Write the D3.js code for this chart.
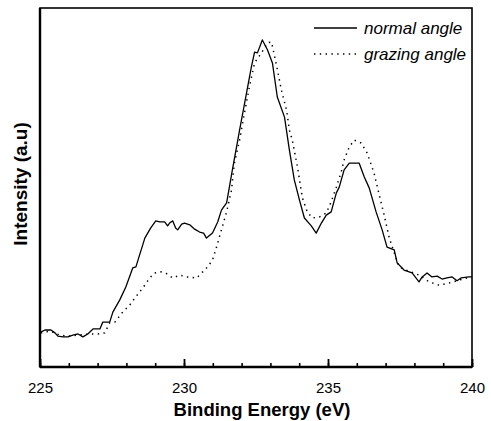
<!DOCTYPE html>
<html>
<head>
<meta charset="utf-8">
<script src="https://cdn.jsdelivr.net/npm/d3@7"></script>
<style>
  body { margin: 0; background: #fff; }
  text { font-family: "Liberation Sans", Arial, sans-serif; fill: #000; }
</style>
</head>
<body>
<svg id="chart" width="491" height="421"></svg>
<script>
// binding energy (eV) / intensity (a.u.)
var normalEnergy = [225.03,225.17,225.38,225.52,225.62,225.80,225.97,226.14,226.32,226.49,
    226.66,226.84,227.08,227.18,227.42,227.53,227.77,227.98,228.22,228.33,
    228.64,228.84,229.02,229.16,229.33,229.43,229.50,229.61,229.71,229.78,
    229.92,230.02,230.20,230.37,230.54,230.68,230.78,230.99,231.17,231.30,
    231.48,231.68,231.93,232.17,232.34,232.45,232.55,232.72,232.90,233.07,
    233.24,233.49,233.66,233.83,234.01,234.18,234.42,234.59,234.77,234.94,
    235.11,235.29,235.39,235.56,235.74,235.91,236.08,236.26,236.43,236.67,
    236.88,237.05,237.30,237.40,237.64,237.92,238.16,238.27,238.44,238.61,
    238.79,238.96,239.13,239.31,239.48,239.62,239.89,240.0];
var normalIntensity = [9.7,10.3,10.3,9.5,8.6,8.4,8.4,8.9,9.2,8.4,
    9.2,10.6,10.6,12.5,12.5,15.3,18.7,22.3,27.6,27.9,
    35.9,38.7,40.7,40.4,40.4,39.3,40.1,40.7,38.7,38.2,
    39.8,40.1,39.6,38.4,37.6,37.3,35.9,37.3,40.4,43.7,
    45.7,54.9,66.0,76.3,83.6,87.7,87.5,91.1,88.3,84.7,
    75.2,69.6,60.4,52.1,46.5,41.5,39.3,37.3,40.1,42.3,
    43.2,48.5,50.1,54.9,56.8,56.8,56.8,52.9,49.9,43.2,
    38.2,33.4,32.6,29.0,27.0,26.2,23.7,25.1,26.2,25.1,
    25.3,24.5,24.8,25.1,24.0,24.8,25.1,25.1];

var grazingEnergy = [225.03,225.35,225.69,225.97,226.32,226.66,227.01,227.25,227.42,227.60,
    227.87,228.12,228.29,228.46,228.64,228.81,228.98,229.19,229.36,229.61,
    229.85,230.09,230.44,230.65,230.82,230.99,231.13,231.30,231.48,231.65,
    231.75,231.93,232.10,232.27,232.45,232.69,232.90,233.04,233.21,233.38,
    233.56,233.66,233.76,233.94,234.11,234.28,234.46,234.70,234.94,235.11,
    235.29,235.46,235.56,235.74,235.91,236.15,236.36,236.60,236.78,236.95,
    237.12,237.30,237.47,237.71,238.16,238.51,238.86,239.20,239.55,239.96];
var grazingIntensity = [9.5,10.0,8.9,8.6,8.9,9.2,9.2,9.5,12.3,12.5,
    15.3,17.3,19.2,20.9,22.8,24.8,26.2,26.5,26.2,24.8,
    25.6,25.1,24.8,26.5,27.9,29.8,33.4,38.2,43.2,49.3,
    56.8,63.2,70.8,78.0,84.7,87.5,90.3,90.5,84.1,77.2,
    71.6,66.0,63.2,55.7,47.1,43.2,41.5,41.8,42.9,46.0,
    50.1,54.3,57.7,61.3,63.2,62.4,59.6,54.0,47.9,42.3,
    36.2,31.8,27.9,27.0,25.6,23.7,22.8,23.4,24.2,25.1];

var seriesNames = ["normal angle", "grazing angle"];
var majorTicks = [225, 230, 235, 240];
var minorTicks = d3.range(225, 241, 1);
var xTitle = "Binding Energy (eV)";
var yTitle = "Intensity (a.u)";

var svg = d3.select("#chart");
var plotLeft = 40, plotRight = 472, plotTop = 8, plotBottom = 367;

var x = d3.scaleLinear().domain([225, 240]).range([plotLeft, plotRight]);
var y = d3.scaleLinear().domain([0, 100]).range([plotBottom, plotTop]);

var normal = normalEnergy.map(function(d, i){ return [d, normalIntensity[i]]; });
var grazing = grazingEnergy.map(function(d, i){ return [d, grazingIntensity[i]]; });

var line = d3.line()
    .x(function(d){ return x(d[0]); })
    .y(function(d){ return y(d[1]); });

// frame
svg.append("rect")
    .attr("x", x(225)).attr("y", y(100))
    .attr("width", x(240) - x(225)).attr("height", y(0) - y(100))
    .attr("fill", "none").attr("stroke", "#000").attr("stroke-width", 1.6);
svg.append("line")
    .attr("x1", x(225)).attr("x2", x(225)).attr("y1", y(100)).attr("y2", y(0))
    .attr("stroke", "#000").attr("stroke-width", 2.4);
svg.append("line")
    .attr("x1", x(225)).attr("x2", x(240)).attr("y1", y(0)).attr("y2", y(0))
    .attr("stroke", "#000").attr("stroke-width", 2.4);

// inward ticks on the energy axis
var xAxisMinor = d3.axisTop(x).tickValues(minorTicks).tickSize(4).tickFormat("");
svg.append("g").attr("transform", "translate(0," + y(0) + ")").call(xAxisMinor)
    .call(function(g){ g.select(".domain").remove(); g.selectAll("line").attr("stroke-width", 1.6); });

var xAxisMajor = d3.axisTop(x).tickValues(majorTicks).tickSize(8).tickFormat("");
svg.append("g").attr("transform", "translate(0," + y(0) + ")").call(xAxisMajor)
    .call(function(g){ g.select(".domain").remove(); g.selectAll("line").attr("stroke-width", 1.8); });

var xLabels = d3.axisBottom(x).tickValues(majorTicks).tickSize(0).tickPadding(15).tickFormat(d3.format("d"));
svg.append("g").attr("transform", "translate(0," + y(0) + ")").call(xLabels)
    .call(function(g){
        g.select(".domain").remove();
        g.selectAll("text").attr("font-size", "15px")
            .attr("font-family", "'Liberation Sans', Arial, sans-serif").attr("fill", "#000");
    });

// curves
svg.append("path").datum(normal)
    .attr("d", line)
    .attr("fill", "none").attr("stroke", "#000").attr("stroke-width", 1.3)
    .attr("stroke-linejoin", "round");
svg.append("path").datum(grazing)
    .attr("d", line)
    .attr("fill", "none").attr("stroke", "#000").attr("stroke-width", 1.5)
    .attr("stroke-dasharray", "1.4,4.4");

// legend
var legend = svg.append("g").attr("transform", "translate(314,28)");
legend.selectAll("line").data(seriesNames).enter().append("line")
    .attr("x1", 0).attr("x2", 43)
    .attr("y1", function(d, i){ return i * 26; })
    .attr("y2", function(d, i){ return i * 26; })
    .attr("stroke", "#000")
    .attr("stroke-width", function(d, i){ return i === 0 ? 1.3 : 1.5; })
    .attr("stroke-dasharray", function(d, i){ return i === 0 ? null : "1.4,4.4"; });
legend.selectAll("text").data(seriesNames).enter().append("text")
    .attr("x", 50)
    .attr("y", function(d, i){ return i * 26 + 6; })
    .attr("font-size", "17px")
    .attr("font-style", "italic")
    .text(function(d){ return d; });

// axis titles
svg.append("text")
    .attr("x", 262).attr("y", 416)
    .attr("text-anchor", "middle")
    .attr("font-size", "18.5px").attr("font-weight", "bold")
    .text(xTitle);
svg.append("text")
    .attr("transform", "translate(27,184) rotate(-90)")
    .attr("text-anchor", "middle")
    .attr("font-size", "19px").attr("font-weight", "bold")
    .text(yTitle);
</script>
</body>
</html>
